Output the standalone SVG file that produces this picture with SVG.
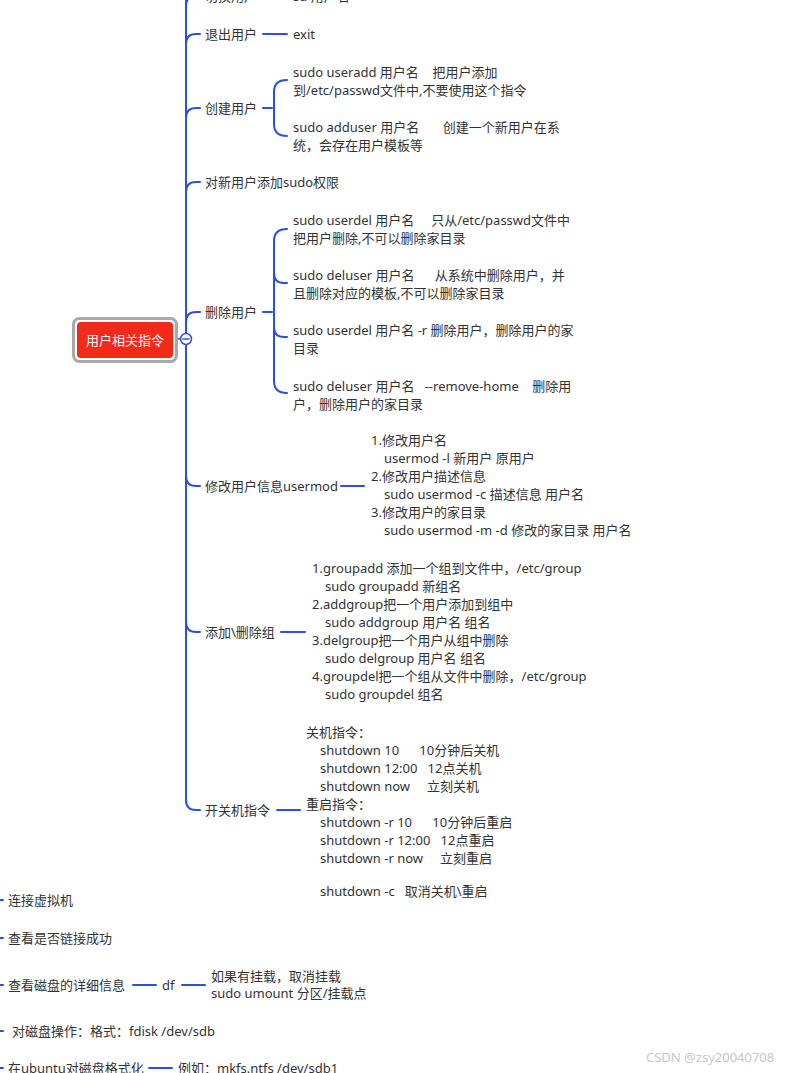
<svg xmlns="http://www.w3.org/2000/svg" width="812" height="1073" viewBox="0 0 812 1073">
<style>
text{font-family:"Noto Sans","Noto Sans CJK SC",sans-serif;font-size:13px;fill:#333;dominant-baseline:central;white-space:pre}
.ln{fill:none;stroke:#2e4fd8;stroke-width:2;stroke-linecap:round}
.wm{fill:#c8c8c8}
</style>
<rect width="812" height="1073" fill="#fff"/>
<g id="connectors">
<path class="ln" d="M186,-20 L186,800 Q186,810 196,810 L200,810"/>
<path class="ln" d="M186,6 Q186,-4 196,-4 L200,-4"/>
<path class="ln" d="M186,44 Q186,34 196,34 L200,34"/>
<path class="ln" d="M186,118 Q186,108 196,108 L200,108"/>
<path class="ln" d="M186,192 Q186,182 196,182 L200,182"/>
<path class="ln" d="M186,322 Q186,312 196,312 L200,312"/>
<path class="ln" d="M186,476 Q186,486 196,486 L200,486"/>
<path class="ln" d="M186,622 Q186,632 196,632 L200,632"/>
<path class="ln" d="M178,339 L181,339" style="stroke-width:1.5"/>
<path class="ln" d="M263,-4 L287,-4"/>
<path class="ln" d="M263,34 L287,34"/>
<path class="ln" d="M263,108 L272,108"/>
<path class="ln" d="M287,80 Q274,80 274,92 L274,124 Q274,136 287,136"/>
<path class="ln" d="M263,312 L272,312"/>
<path class="ln" d="M287,229 Q274,229 274,241 L274,381 Q274,393 287,393"/>
<path class="ln" d="M274,273 Q274,283 284,283 L287,283"/>
<path class="ln" d="M274,327 Q274,337 284,337 L287,337"/>
<path class="ln" d="M341,486 L364,486"/>
<path class="ln" d="M281,632 L305,632"/>
<path class="ln" d="M277,810 L300,810"/>
<path class="ln" d="M0,900 L3,900"/>
<path class="ln" d="M0,938 L3,938"/>
<path class="ln" d="M0,985 L3,985"/>
<path class="ln" d="M133,985 L156,985"/>
<path class="ln" d="M182,985 L205,985"/>
<path class="ln" d="M0,1031 L3,1031"/>
<path class="ln" d="M0,1068 L3,1068"/>
<path class="ln" d="M149,1068 L172,1068"/>
</g>
<g id="root">
<rect x="73.5" y="318.5" width="103" height="43" rx="6" fill="#fff" stroke="#a9a9a9" stroke-width="3"/>
<rect x="77" y="322" width="96" height="36" rx="4" fill="#f22a1a"/>
<text x="125" y="340" text-anchor="middle" style="fill:#fff">用户相关指令</text>
<circle cx="186" cy="339" r="5.5" fill="#fff" stroke="#2e4fd8" stroke-width="1.5"/>
<path d="M182.5,339 L189.5,339" stroke="#2e4fd8" stroke-width="1.5"/>
</g>
<g id="n-switch"><text x="205" y="-4">切换用户</text><text x="293" y="-4">su 用户名</text></g>
<g id="n-exit"><text x="205" y="34">退出用户</text><text x="293" y="34">exit</text></g>
<g id="n-create"><text x="205" y="108">创建用户</text>
<text x="293" y="72">sudo useradd 用户名    把用户添加</text>
<text x="293" y="90">到/etc/passwd文件中,不要使用这个指令</text>
<text x="293" y="127">sudo adduser 用户名       创建一个新用户在系</text>
<text x="293" y="145">统，会存在用户模板等</text></g>
<g id="n-sudo"><text x="205" y="182">对新用户添加sudo权限</text></g>
<g id="n-delete"><text x="205" y="312">删除用户</text>
<text x="293" y="220">sudo userdel 用户名     只从/etc/passwd文件中</text>
<text x="293" y="238">把用户删除,不可以删除家目录</text>
<text x="293" y="275">sudo deluser 用户名      从系统中删除用户，并</text>
<text x="293" y="293">且删除对应的模板,不可以删除家目录</text>
<text x="293" y="330">sudo userdel 用户名 -r 删除用户，删除用户的家</text>
<text x="293" y="348">目录</text>
<text x="293" y="386">sudo deluser 用户名   --remove-home    删除用</text>
<text x="293" y="404">户，删除用户的家目录</text></g>
<g id="n-usermod"><text x="205" y="486">修改用户信息usermod</text>
<text x="371" y="440">1.修改用户名</text>
<text x="384" y="458">usermod -l 新用户 原用户</text>
<text x="371" y="476">2.修改用户描述信息</text>
<text x="384" y="494">sudo usermod -c 描述信息 用户名</text>
<text x="371" y="512">3.修改用户的家目录</text>
<text x="384" y="530">sudo usermod -m -d 修改的家目录 用户名</text></g>
<g id="n-group"><text x="205" y="632">添加\删除组</text>
<text x="312" y="568">1.groupadd 添加一个组到文件中，/etc/group</text>
<text x="325" y="586">sudo groupadd 新组名</text>
<text x="312" y="604">2.addgroup把一个用户添加到组中</text>
<text x="325" y="622">sudo addgroup 用户名 组名</text>
<text x="312" y="640">3.delgroup把一个用户从组中删除</text>
<text x="325" y="658">sudo delgroup 用户名 组名</text>
<text x="312" y="676">4.groupdel把一个组从文件中删除，/etc/group</text>
<text x="325" y="694">sudo groupdel 组名</text></g>
<g id="n-shutdown"><text x="205" y="810">开关机指令</text>
<text x="306" y="732">关机指令：</text>
<text x="320" y="750">shutdown 10      10分钟后关机</text>
<text x="320" y="768">shutdown 12:00   12点关机</text>
<text x="320" y="786">shutdown now     立刻关机</text>
<text x="306" y="804">重启指令：</text>
<text x="320" y="822">shutdown -r 10      10分钟后重启</text>
<text x="320" y="840">shutdown -r 12:00   12点重启</text>
<text x="320" y="858">shutdown -r now     立刻重启</text>
<text x="320" y="891">shutdown -c   取消关机\重启</text></g>
<g id="n-vm"><text x="8" y="900">连接虚拟机</text></g>
<g id="n-check"><text x="8" y="938">查看是否链接成功</text></g>
<g id="n-disk"><text x="8" y="985">查看磁盘的详细信息</text></g>
<g id="n-df"><text x="162" y="985">df</text></g>
<g id="n-umount"><text x="211" y="976">如果有挂载，取消挂载</text><text x="211" y="993">sudo umount 分区/挂载点</text></g>
<g id="n-fdisk"><text x="12" y="1031">对磁盘操作：格式：fdisk /dev/sdb</text></g>
<g id="n-format"><text x="8" y="1068">在ubuntu对磁盘格式化</text></g>
<g id="n-mkfs"><text x="178" y="1068">例如：mkfs.ntfs /dev/sdb1</text></g>
<text class="wm" x="646" y="1057">CSDN @zsy20040708</text>
</svg>
